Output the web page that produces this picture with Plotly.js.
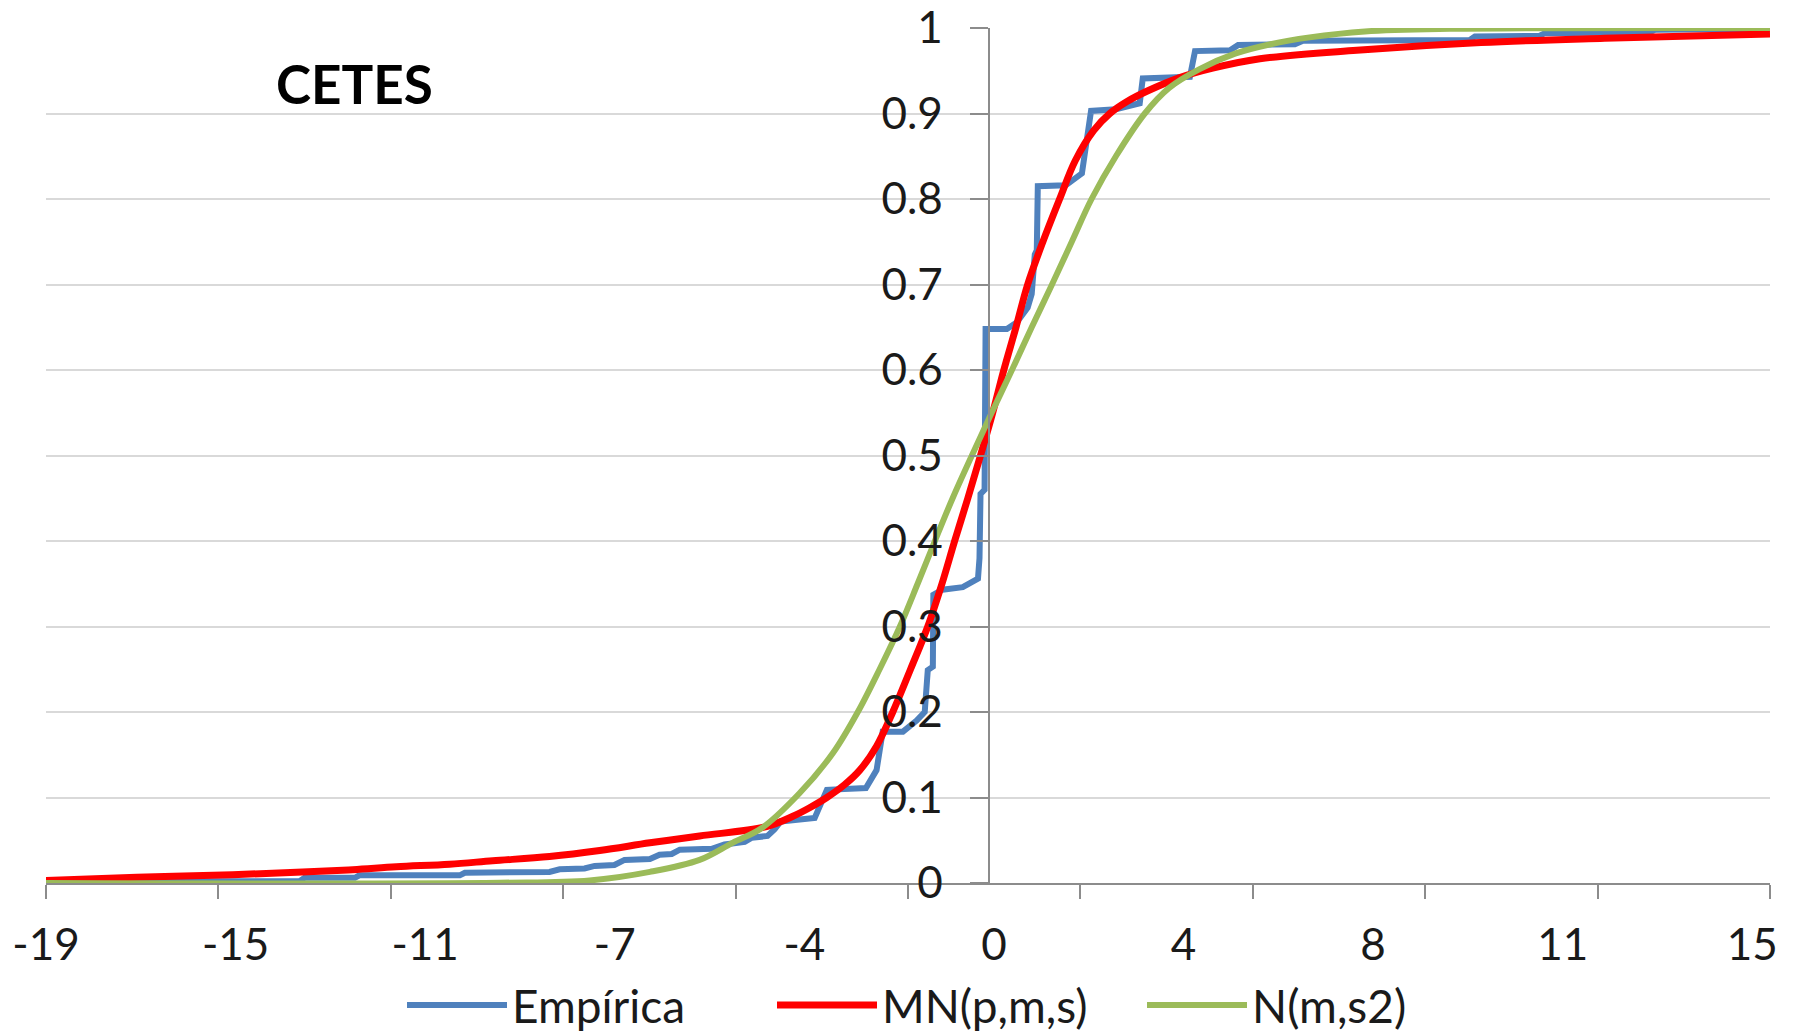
<!DOCTYPE html>
<html><head><meta charset="utf-8">
<script src="https://cdn.plot.ly/plotly-3.0.1.min.js"></script>
<style>html,body{margin:0;padding:0;background:#fff}#chart{width:1799px;height:1032px}</style>
</head><body><div id="chart"></div>
<script>
// ---- data ----
const seriesNames = ['Empírica', 'MN(p,m,s)', 'N(m,s2)'];
const seriesColors = ['#4F81BD', '#FF0000', '#9BBB59'];

const empiricaX = [-19.0, -14.00, -13.90, -12.91, -12.82, -10.84, -10.74, -9.07, -8.87, -8.38, -8.18, -7.79, -7.59, -7.09, -6.90, -6.66, -6.50, -5.87, -5.62, -5.22, -5.08, -4.77, -4.63, -4.51, -3.84, -3.60, -2.83, -2.62, -2.50, -2.10, -1.83, -1.67, -1.61, -1.51, -1.50, -1.32, -0.92, -0.62, -0.59, -0.57, -0.49, -0.47, -0.05, 0.15, 0.36, 0.44, 0.50, 0.54, 0.56, 1.11, 1.43, 1.61, 2.10, 2.57, 2.63, 3.56, 3.66, 4.35, 4.51, 5.63, 5.79, 9.08, 9.18, 10.46, 10.56, 12.63, 12.73, 15.0];
const empiricaY = [0.002, 0.002, 0.006, 0.006, 0.009, 0.009, 0.012, 0.013, 0.016, 0.017, 0.020, 0.021, 0.027, 0.028, 0.033, 0.034, 0.039, 0.040, 0.045, 0.048, 0.053, 0.055, 0.063, 0.072, 0.076, 0.109, 0.111, 0.132, 0.177, 0.177, 0.190, 0.200, 0.249, 0.253, 0.337, 0.343, 0.346, 0.356, 0.380, 0.455, 0.460, 0.648, 0.648, 0.656, 0.673, 0.689, 0.735, 0.740, 0.815, 0.816, 0.830, 0.903, 0.905, 0.912, 0.941, 0.943, 0.973, 0.974, 0.980, 0.981, 0.985, 0.986, 0.990, 0.991, 0.994, 0.995, 0.998, 0.999];

const mnX = [-19.0, -17.21, -15.32, -13.94, -12.95, -12.09, -11.04, -10.19, -9.07, -8.08, -7.09, -6.11, -4.79, -4.27, -3.94, -3.60, -3.25, -2.95, -2.62, -2.30, -1.95, -1.61, -1.33, -1.08, -0.82, -0.57, -0.33, -0.11, 0.13, 0.36, 0.66, 0.99, 1.30, 1.66, 1.98, 2.32, 2.71, 3.36, 4.01, 4.94, 6.85, 9.30, 11.74, 15.0];
const mnY = [0.003, 0.0066, 0.0097, 0.0128, 0.0156, 0.019, 0.022, 0.026, 0.031, 0.038, 0.047, 0.055, 0.066, 0.078, 0.088, 0.100, 0.115, 0.132, 0.160, 0.200, 0.250, 0.300, 0.350, 0.400, 0.450, 0.500, 0.550, 0.600, 0.650, 0.700, 0.750, 0.800, 0.845, 0.880, 0.900, 0.914, 0.926, 0.942, 0.953, 0.964, 0.974, 0.983, 0.988, 0.993];

const normX = [-19.0, -10.05, -8.28, -7.09, -6.11, -5.46, -4.89, -4.14, -3.48, -2.99, -2.56, -2.16, -1.81, -1.47, -1.12, -0.74, -0.35, 0.05, 0.44, 0.84, 1.23, 1.62, 2.10, 2.67, 3.15, 3.75, 4.45, 5.15, 5.92, 7.01, 8.69, 15.0];
const normY = [0.000, 0.0003, 0.003, 0.013, 0.027, 0.047, 0.064, 0.105, 0.152, 0.200, 0.250, 0.300, 0.350, 0.400, 0.450, 0.500, 0.550, 0.600, 0.650, 0.700, 0.750, 0.800, 0.850, 0.900, 0.930, 0.952, 0.970, 0.981, 0.989, 0.996, 0.999, 1.000];

const xTickLabels = ['-19', '-15', '-11', '-7', '-4', '0', '4', '8', '11', '15'];
const yTickVals = [0, 0.1, 0.2, 0.3, 0.4, 0.5, 0.6, 0.7, 0.8, 0.9, 1];
const yTickLabels = ['0', '0.1', '0.2', '0.3', '0.4', '0.5', '0.6', '0.7', '0.8', '0.9', '1'];
const chartLabel = 'CETES';

// ---- axis layout ----
const xMin = -19, xMax = 15;
const xTickMarkCount = 11;
const xTickMarks = Array.from({length: xTickMarkCount}, (_, i) => xMin + i * (xMax - xMin) / (xTickMarkCount - 1));
const labelStart = -19.0, labelEnd = 14.65;
const xLabelPos = xTickLabels.map((_, i) => labelStart + i * (labelEnd - labelStart) / (xTickLabels.length - 1));
const yCrossX = -0.41;
const yAxisPos = (yCrossX - xMin) / (xMax - xMin);

const axisGray = '#8C8C8C';
const textColor = '#1a1a1a';
const fontFam = 'Lato, "Open Sans", sans-serif';

const data = [
  {x: empiricaX, y: empiricaY, name: seriesNames[0], type: 'scatter', mode: 'lines',
   line: {color: seriesColors[0], width: 6, shape: 'linear'}},
  {x: mnX, y: mnY, name: seriesNames[1], type: 'scatter', mode: 'lines',
   line: {color: seriesColors[1], width: 7, shape: 'spline', smoothing: 1}},
  {x: normX, y: normY, name: seriesNames[2], type: 'scatter', mode: 'lines',
   line: {color: seriesColors[2], width: 6, shape: 'spline', smoothing: 1}}
];

const layout = {
  width: 1799, height: 1032,
  paper_bgcolor: '#ffffff', plot_bgcolor: '#ffffff',
  font: {family: fontFam, color: textColor},
  margin: {l: 46, r: 29, t: 28, b: 149, autoexpand: false},
  showlegend: true,
  legend: {orientation: 'h', x: 0.2065, xanchor: 'left', y: -0.1427, yanchor: 'middle',
           font: {family: fontFam, size: 46, color: textColor}, itemwidth: 100,
           entrywidth: 255, bgcolor: 'rgba(0,0,0,0)'},
  xaxis: {range: [xMin, xMax], tickmode: 'array', tickvals: xLabelPos, ticktext: xTickLabels,
          ticks: '', tickfont: {family: fontFam, size: 44, color: textColor}, ticklabelstandoff: 22,
          minor: {tickmode: 'array', tickvals: xTickMarks, ticks: 'outside', ticklen: 14, tickwidth: 2,
                  tickcolor: axisGray, showgrid: false},
          showline: true, linecolor: axisGray, linewidth: 2, showgrid: false, zeroline: false, fixedrange: true},
  yaxis: {range: [0, 1], tickmode: 'array', tickvals: yTickVals, ticktext: yTickLabels,
          anchor: 'free', position: yAxisPos, showgrid: true, gridcolor: '#D9D9D9', gridwidth: 2,
          showline: true, linecolor: axisGray, linewidth: 2, ticks: 'outside', ticklen: 18, tickwidth: 2, tickcolor: axisGray,
          zeroline: false, tickfont: {family: fontFam, size: 44, color: textColor}, ticklabelstandoff: 18,
          ticklabeloverflow: 'allow', fixedrange: true},
  annotations: [{text: '<b>' + chartLabel + '</b>', xref: 'paper', yref: 'paper', x: 0.1787, y: 0.935,
                 xanchor: 'center', yanchor: 'middle', showarrow: false,
                 font: {family: fontFam, size: 53, color: '#000000'}}]
};

Plotly.newPlot('chart', data, layout, {staticPlot: true, displayModeBar: false});
</script>
</body></html>
